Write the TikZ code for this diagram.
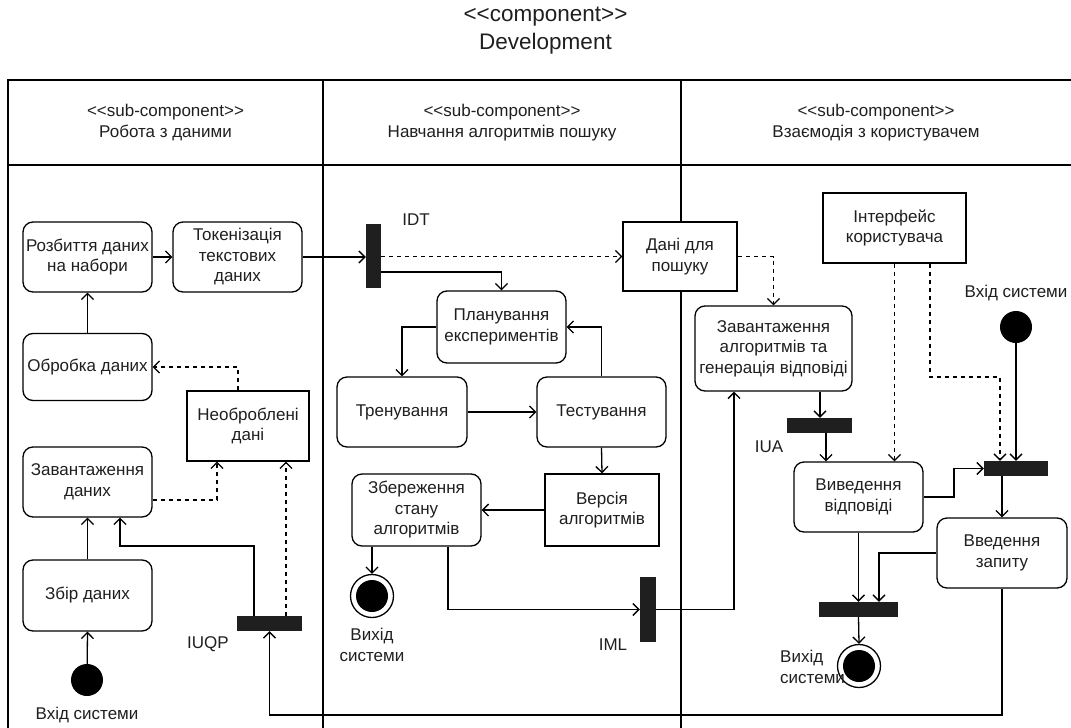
\documentclass[tikz,border=0pt]{standalone}
\usepackage{fontspec}
\setmainfont{Liberation Sans}
\usetikzlibrary{arrows.meta}

\begin{document}
\begin{tikzpicture}[x=1pt,y=-1pt,
  every node/.style={font=\fontsize{17}{20.5}\selectfont, align=center, inner sep=0pt, text=black!88},
  act/.style={draw, line width=1.3pt, rounded corners=10pt, fill=white},
  obj/.style={draw, line width=1.3pt, fill=white},
  bar/.style={fill=black!88, draw=none},
  startdot/.style={circle, fill=black, minimum size=32pt},
  endring/.style={circle, draw, line width=1.3pt, fill=white, minimum size=43pt},
  flow/.style={line width=1.3pt, -{Straight Barb[length=6pt,width=12pt]}},
  dflow/.style={flow, dash pattern=on 4pt off 4pt},
  lane/.style={line width=1.4pt},
]
\useasboundingbox (0,0) rectangle (1071,728);
\clip (0,0) rectangle (1071,728);

% title
\node[font=\fontsize{22.5}{28}\selectfont] (title) at (545.5,31) {<{}<component>{}>\\Development};

% swimlane frame
\draw[lane] (1090,80) -- (8,80) -- (8,750);
\draw[lane] (8,165) -- (1090,165);
\draw[lane] (323,80) -- (323,750);
\draw[lane] (681,80) -- (681,750);

\node (h1) at (165.5,122.5) {<{}<sub-component>{}>\\Робота з даними};
\node (h2) at (502,122.5) {<{}<sub-component>{}>\\Навчання алгоритмів пошуку};
\node (h3) at (876,122.5) {<{}<sub-component>{}>\\Взаємодія з користувачем};

% ---- lane 1: data ----
\node[act, minimum width=129pt, minimum height=70pt] (rozb) at (87.5,257) {Розбиття даних\\на набори};
\node[act, minimum width=129pt, minimum height=70pt] (token) at (237.5,257) {Токенізація\\текстових\\даних};
\node[act, minimum width=129pt, minimum height=67pt] (obrob) at (87.5,367) {Обробка даних};
\node[obj, minimum width=122pt, minimum height=70pt] (neob) at (248,426) {Необроблені\\дані};
\node[act, minimum width=129pt, minimum height=70pt] (zavd) at (87.5,482) {Завантаження\\даних};
\node[act, minimum width=129pt, minimum height=71pt] (zbir) at (87.5,595.5) {Збір даних};
\node[startdot] (start1) at (87,680) {};
\node (lbl1) at (87,715) {Вхід системи};
\node[bar, minimum width=65pt, minimum height=15pt] (iuqp) at (269.5,623.5) {};
\node (lbliuqp) at (208,644) {IUQP};

% ---- lane 2: training ----
\node[bar, minimum width=15pt, minimum height=64pt] (idt) at (373.5,256) {};
\node (lblidt) at (416,220) {IDT};
\node[act, minimum width=129pt, minimum height=72pt] (plan) at (501.5,327) {Планування\\експериментів};
\node[act, minimum width=130pt, minimum height=70pt] (tren) at (402,412) {Тренування};
\node[act, minimum width=129pt, minimum height=70pt] (test) at (601.5,412) {Тестування};
\node[obj, minimum width=114pt, minimum height=72pt] (versiya) at (602,510) {Версія\\алгоритмів};
\node[act, minimum width=129pt, minimum height=72pt] (zber) at (416.5,510) {Збереження\\стану\\алгоритмів};
\node[endring] (end2) at (372,596) {};
\node[startdot] (end2in) at (end2) {};
\node (lbl2) at (372,645) {Вихід\\системи};
\node[bar, minimum width=16pt, minimum height=65pt] (iml) at (648,609.5) {};
\node (lbliml) at (613,645) {IML};

% ---- lane 3: user interaction ----
\node[obj, minimum width=114pt, minimum height=69pt] (dani) at (680,256.5) {Дані для\\пошуку};
\node[act, minimum width=157pt, minimum height=85pt] (zalg) at (773.5,348.5) {Завантаження\\алгоритмів та\\генерація відповіді};
\node[bar, minimum width=65pt, minimum height=15pt] (iua) at (819.5,425.5) {};
\node (lbliua) at (769,447) {IUA};
\node[obj, minimum width=143pt, minimum height=70pt] (interf) at (894.5,228) {Інтерфейс\\користувача};
\node (lbl3) at (1016,293) {Вхід системи};
\node[startdot] (start3) at (1016,327) {};
\node[bar, minimum width=64pt, minimum height=15pt] (bar3) at (1016,468.5) {};
\node[act, minimum width=129pt, minimum height=70pt] (vyved) at (858.5,497) {Виведення\\відповіді};
\node[act, minimum width=130pt, minimum height=70pt] (vveden) at (1002,553) {Введення\\запиту};
\node[bar, minimum width=79pt, minimum height=15pt] (bar4) at (858.5,609.5) {};
\node[endring] (end3) at (859,666) {};
\node[startdot] (end3in) at (end3) {};
\node[align=left, anchor=west] (lbl4) at (780,667) {Вихід\\системи};

% ---- connectors, lane 1 ----
\draw[flow] (start1) -- (zbir.south);
\draw[flow] (zbir.north) -- (zavd.south);
\draw[dflow] (zavd.east |- 0,500) -| ([xshift=-31pt]neob.south);
\draw[dflow] (iuqp.north -| 286,0) -- (neob.south -| 286,0);
\draw[flow] (iuqp.north -| 254,0) |- (120,546) -- (zavd.south -| 120,0);
\draw[dflow] (neob.north -| 238,0) |- (obrob.east);
\draw[flow] (obrob.north) -- (rozb.south);
\draw[flow] (rozb) -- (token);
\draw[flow] (token.east) -- (idt.west |- token.east);

% ---- connectors, lane 2 ----
\draw[dflow] (idt.east |- dani.west) -- (dani.west);
\draw[flow] (idt.east |- 0,272) -| (plan.north);
\draw[flow] (plan.west) -| (tren.north);
\draw[flow] (test.north) |- (plan.east);
\draw[flow] (tren) -- (test);
\draw[flow] (test.south) -- (versiya.north);
\draw[flow] (versiya.west) -- (zber.east);
\draw[flow] (zber.south -| end2.north) -- (end2.north);
\draw[flow] (zber.south -| 448,0) |- (iml.west);
\draw[flow] (iml.east) -| ([xshift=-39.5pt]zalg.south);

% ---- connectors, lane 3 ----
\draw[dflow] (dani.east) -| (zalg.north);
\draw[flow] (zalg.south -| 820,0) -- (iua.north -| 820,0);
\draw[flow] (iua.south -| 826,0) -- (vyved.north -| 826,0);
\draw[dflow] (interf.south) -- (interf.south |- vyved.north);
\draw[dflow] (interf.south -| 930,0) |- (1000,377) -- (bar3.north -| 1000,0);
\draw[flow] (start3) -- (bar3.north);
\draw[flow] (vyved.east) -- (954,497) |- (bar3.west);
\draw[flow] (bar3.south -| vveden.north) -- (vveden.north);
\draw[flow] (vyved.south) -- (bar4.north);
\draw[flow] (vveden.west) -| (bar4.north -| 879,0);
\draw[flow] (bar4.south) -- (end3.north);
\draw[flow] (vveden.south) |- (600,715) -| (iuqp.south);
\end{tikzpicture}
\end{document}
